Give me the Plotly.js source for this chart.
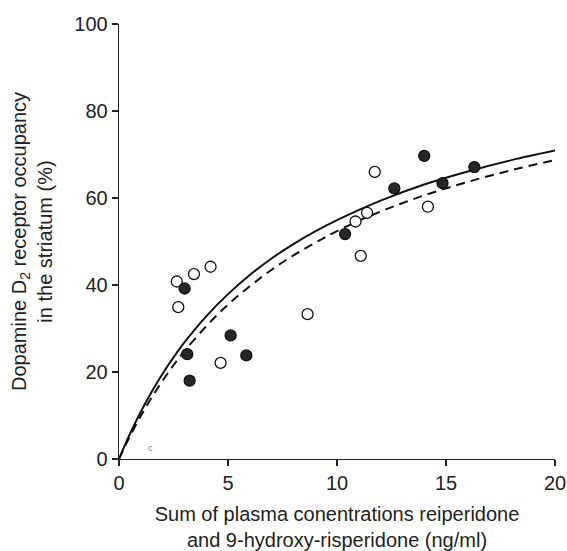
<!DOCTYPE html>
<html>
<head>
<meta charset="utf-8">
<script src="https://cdn.plot.ly/plotly-3.0.1.min.js"></script>
<style>html,body{margin:0;padding:0;background:#fff;}#chart{width:567px;height:551px;}</style>
</head>
<body>
<div id="chart"></div>
<script>
// Open circles
var openX = [2.65, 2.72, 3.44, 4.2, 4.66, 8.65, 10.85, 11.09, 11.38, 11.73, 14.17];
var openY = [40.8, 34.9, 42.5, 44.2, 22.1, 33.3, 54.6, 46.7, 56.6, 66.0, 58.0];
// Filled circles
var filledX = [3.01, 3.13, 3.24, 5.12, 5.84, 10.37, 12.63, 14.0, 14.84, 16.3];
var filledY = [39.2, 24.1, 18.0, 28.4, 23.8, 51.7, 62.2, 69.7, 63.4, 67.1];
// Fitted curves
var curveX  = [0, 0.25, 0.5, 1, 1.5, 2, 2.5, 3, 4, 5, 6, 7, 8, 9, 10, 12, 14, 16, 18, 20];
var solidY  = [0, 2.96, 5.75, 10.87, 15.46, 19.6, 23.36, 26.8, 32.8, 37.9, 42.3, 46.1, 49.4, 52.3, 54.9, 59.4, 63.1, 66.1, 68.7, 70.9];
var dashedY = [0, 2.67, 5.2, 9.9, 14.15, 18.0, 21.55, 24.8, 30.5, 35.5, 39.7, 43.5, 46.8, 49.7, 52.4, 56.9, 60.6, 63.7, 66.4, 68.7];
var xTicks = [0, 5, 10, 15, 20];
var yTicks = [0, 20, 40, 60, 80, 100];

var fontFam = "Liberation Sans, Arial, sans-serif";
var traces = [
  {x: curveX, y: solidY, mode: 'lines', line: {color: '#111', width: 2, shape: 'spline'}, hoverinfo: 'skip'},
  {x: curveX, y: dashedY, mode: 'lines', line: {color: '#111', width: 2, dash: '9px,6px', shape: 'spline'}, hoverinfo: 'skip'},
  {x: openX, y: openY, mode: 'markers', marker: {size: 11, color: '#fff', line: {color: '#111', width: 1.3}}},
  {x: filledX, y: filledY, mode: 'markers', marker: {size: 11, color: '#262626', line: {color: '#111', width: 1.3}}}
];
var layout = {
  width: 567, height: 551,
  margin: {l: 119, r: 12, t: 24, b: 92},
  paper_bgcolor: '#fff', plot_bgcolor: '#fff',
  showlegend: false,
  font: {family: fontFam, size: 20, color: '#222'},
  xaxis: {
    range: [0, 20], tickvals: xTicks, ticktext: xTicks.map(String),
    showgrid: false, zeroline: false, showline: true, linecolor: '#222', linewidth: 1.3,
    ticks: 'outside', ticklen: 6, tickcolor: '#222', tickwidth: 1.3,
    tickfont: {size: 20}, ticklabeloverflow: 'allow', automargin: false,
    title: {text: 'Sum of plasma conentrations reiperidone<br>and 9-hydroxy-risperidone (ng/ml)', font: {size: 20}, standoff: 19}
  },
  yaxis: {
    range: [0, 100], tickvals: yTicks, ticktext: yTicks.map(String),
    showgrid: false, zeroline: false, showline: true, linecolor: '#222', linewidth: 1.3,
    ticks: 'outside', ticklen: 6, tickcolor: '#222', tickwidth: 1.3,
    tickfont: {size: 20}, ticklabeloverflow: 'allow', automargin: false,
    title: {text: 'Dopamine D<sub>2</sub> receptor occupancy<br>in the striatum (%)', font: {size: 20}, standoff: 16}
  },
  annotations: [
    {x: 1.45, y: 2.6, xref: 'x', yref: 'y', text: 'c', showarrow: false, font: {size: 9, color: '#777'}}
  ]
};
Plotly.newPlot('chart', traces, layout, {staticPlot: true, displayModeBar: false});
</script>
</body>
</html>
